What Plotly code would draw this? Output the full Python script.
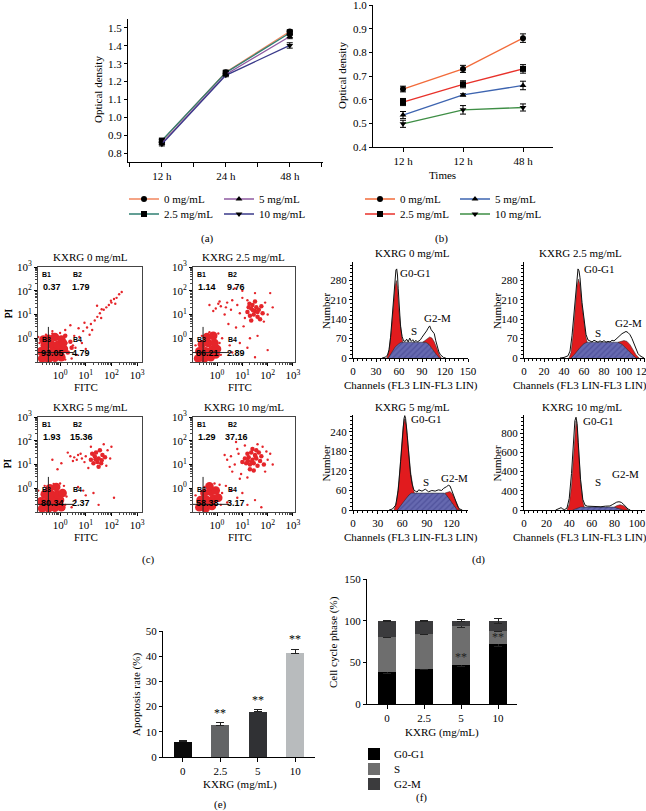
import plotly.graph_objects as go

W, H = 646, 811
SERIF = "Liberation Serif, Times New Roman, serif"
SANS = "Liberation Sans, Arial, sans-serif"

# ---------------- data ----------------
doses = ["0 mg/mL", "2.5 mg/mL", "5 mg/mL", "10 mg/mL"]
symbols = ["circle", "square", "triangle-up", "triangle-down"]

# (a)
a_times = ["12 h", "24 h", "48 h"]
a_od = [[0.868, 1.252, 1.480], [0.870, 1.250, 1.472], [0.855, 1.240, 1.452], [0.850, 1.235, 1.402]]
a_err = [[0.008, 0.008, 0.010], [0.008, 0.008, 0.010], [0.008, 0.008, 0.012], [0.010, 0.008, 0.015]]
a_colors = ["#f2865e", "#2f7f72", "#8e5aa0", "#3a3a8a"]

# (b)
b_times = ["12 h", "12 h", "48 h"]
b_od = [[0.645, 0.730, 0.860], [0.590, 0.665, 0.730], [0.535, 0.620, 0.660], [0.498, 0.557, 0.567]]
b_err = [[0.012, 0.015, 0.018], [0.015, 0.015, 0.018], [0.015, 0.005, 0.018], [0.015, 0.018, 0.015]]
b_colors = ["#f26b3a", "#e8312a", "#3d64b0", "#3e8e45"]

# (c) flow cytometry dot plots (log10 FITC, log10 PI)
c_titles = ["KXRG 0 mg/mL", "KXRG 2.5 mg/mL", "KXRG 5 mg/mL", "KXRG 10 mg/mL"]
c_pct = [[0.37, 1.79, 93.05, 4.79], [1.14, 9.76, 86.21, 2.89],
         [1.93, 15.36, 80.34, 2.37], [1.29, 37.16, 58.38, 3.17]]
c_quads = ["B1", "B2", "B3", "B4"]
c_gate_x = [0.35, 0.28, 0.35, 0.28]
c_gate_y = [0.25, 0.25, 0.21, 0.21]

c1_dense_x = [-0.70, -0.45, -0.20, 0.05, -0.75, -0.50, -0.25, 0.00, 0.15, -0.60, -0.35, -0.10, -0.45, -0.20, 0.05, -0.65,
              -0.32, -0.58, -0.08, 0.12]
c1_dense_y = [-0.85, -0.88, -0.82, -0.80, -0.55, -0.60, -0.50, -0.55, -0.45, -0.30, -0.25, -0.28, -0.02, 0.05, -0.05, -0.05,
              -0.70, -0.42, -0.65, -0.20]
c1_clu_x = [0.30, 0.45, 0.40, 0.20]
c1_clu_y = [-0.60, -0.40, -0.15, 0.10]
c1_sp_x = [0.45, 0.60, 0.55, 0.75, 0.90, 1.05, 1.20, 1.35, 1.45, 1.55, 1.70, 1.80, 1.90, 2.00, 2.10, 2.20, 2.30, 2.40,
           1.60, 1.25, 0.85, 0.40, 1.44, 0.20, -0.30, 0.65, 1.00, 0.50, 1.15, 0.95, 2.15,
           -0.80, -0.85, 0.20, 0.25, -0.55, 0.00, -0.30, 0.15, 1.62, 1.98, 0.72]
c1_sp_y = [-0.85, -0.40, 0.10, 0.05, 0.30, 0.45, 0.60, 0.75, 0.90, 1.05, 1.20, 1.30, 1.40, 1.50, 1.65, 1.70, 1.85, 1.95,
           0.85, 0.35, -0.20, 0.55, 1.37, 0.35, 0.30, -0.70, -0.45, -0.30, 0.15, 0.65, 1.45,
           -0.20, 0.05, -0.90, -0.20, 0.15, 0.22, 0.20, 0.05, 1.22, 1.58, 0.42]

c2_dense_x = [-0.75, -0.50, -0.25, -0.70, -0.45, -0.20, 0.00, -0.60, -0.35, -0.10, -0.40, -0.15, -0.62, -0.30, -0.05]
c2_dense_y = [-0.85, -0.85, -0.80, -0.55, -0.55, -0.50, -0.45, -0.25, -0.20, -0.20, 0.05, 0.10, -0.72, -0.65, -0.68]
c2_clu_x = [1.20, 1.35, 1.50, 1.65, 1.80, 1.30, 1.45, 1.60, 1.75, 1.40, 1.55, 1.25, 1.70, 1.50, 1.35, 1.60, 1.42, 1.28]
c2_clu_y = [1.10, 1.25, 1.15, 1.20, 1.05, 0.95, 1.00, 0.90, 1.35, 1.40, 1.30, 1.30, 0.80, 1.55, 0.75, 1.10, 1.18, 1.45]
c2_sp_x = [0.40, 0.55, 0.35, 0.60, 0.80, 1.00, 1.10, 1.20, 1.90, 2.00, 1.85, 2.10, 1.00, 0.70, 1.50, 2.20, 0.90, 0.30,
           0.05, 0.15, 0.10, -0.05, -0.30, -0.15, 0.60, 1.20, 1.50, 0.90, 1.30, 0.50, 2.00, 1.60, 0.45, 0.75, 1.05,
           -0.85, 0.15, 0.10, 0.05, -0.30, 0.20, -0.60]
c2_sp_y = [1.50, 1.20, 1.30, 1.60, 1.40, 1.70, 0.85, 1.60, 1.50, 1.00, 0.70, 1.90, 2.00, 2.10, 1.90, 1.30, 1.05, 1.00,
           1.45, 1.35, 1.55, 1.25, 1.40, 1.15, -0.60, -0.40, -0.80, -0.20, 0.00, -0.30, -0.50, 0.10, 0.60, 0.45, 0.50,
           -0.30, -0.70, -0.20, 0.20, 0.25, 0.00, 0.10]

c3_dense_x = [-0.70, -0.45, -0.20, 0.05, -0.75, -0.50, -0.25, 0.00, -0.60, -0.35, -0.10, 0.10, -0.40, -0.15, -0.58, -0.32, -0.08]
c3_dense_y = [-0.85, -0.85, -0.82, -0.80, -0.55, -0.55, -0.50, -0.50, -0.25, -0.25, -0.25, -0.20, 0.00, 0.05, -0.70, -0.68, -0.66]
c3_clu_x = [1.20, 1.35, 1.50, 1.65, 1.30, 1.45, 1.60, 1.75, 1.40, 1.55, 1.25, 1.50, 1.38, 1.62]
c3_clu_y = [1.20, 1.35, 1.25, 1.40, 1.05, 1.10, 1.05, 1.30, 1.50, 1.60, 1.45, 0.90, 1.22, 1.18]
c3_sp_x = [0.40, 0.55, 0.70, 0.85, 1.00, 0.50, 0.65, 0.80, 0.95, 1.85, 1.95, 2.00, 1.10, 1.80, 0.30, -0.30, -0.10, 0.05,
           1.70, 1.20, 0.60, 1.00, 1.50, 2.10, 0.90, 0.45, 0.70, 1.30,
           -0.85, 0.20, 0.25, 0.15, -0.60, -0.25, 0.00]
c3_sp_y = [1.35, 1.30, 1.40, 1.25, 1.35, 1.15, 1.20, 1.45, 1.10, 1.60, 1.25, 1.75, 0.85, 0.95, 1.50, 1.20, 0.80, 1.05,
           1.85, 1.75, -0.50, -0.30, -0.70, -0.40, -0.10, -0.80, 0.05, -0.20,
           -0.10, -0.70, -0.35, 0.10, 0.10, 0.18, 0.20]

c4_dense_x = [-0.70, -0.45, -0.20, -0.65, -0.40, -0.15, 0.05, -0.50, -0.25, -0.05, -0.30, -0.55, -0.30]
c4_dense_y = [-0.80, -0.85, -0.75, -0.50, -0.50, -0.45, -0.40, -0.20, -0.15, -0.10, 0.08, -0.68, -0.62]
c4_clu_x = [1.10, 1.25, 1.40, 1.55, 1.70, 1.15, 1.30, 1.45, 1.60, 1.75, 1.20, 1.35, 1.50, 1.65, 1.30, 1.45, 1.00, 1.85,
            1.40, 1.55, 1.38, 1.22, 1.52]
c4_clu_y = [1.25, 1.30, 1.20, 1.25, 1.15, 1.05, 1.00, 1.05, 0.95, 1.35, 1.45, 1.50, 1.40, 1.50, 0.80, 0.75, 1.10, 1.00,
            1.65, 1.60, 1.12, 1.15, 1.33]
c4_sp_x = [0.40, 0.55, 0.70, 0.85, 0.60, 0.80, 0.95, 2.00, 2.10, 1.90, 2.20, 1.10, 1.60, 0.50, 0.30, 0.75, 1.80, 1.20, 0.90,
           1.95, -0.20, 0.10, 0.40, 0.80, 1.20, 1.50, 0.55, 1.75, 0.35, 1.00,
           -0.85, 0.15, 0.20, -0.10, -0.50, 0.10]
c4_sp_y = [1.20, 1.35, 1.00, 1.45, 0.70, 1.65, 0.60, 1.20, 1.45, 0.70, 1.00, 1.80, 1.85, 0.90, 1.40, 1.95, 1.75, 0.45, 0.40,
           1.55, 0.10, -0.30, -0.60, -0.40, -0.70, -0.50, -0.10, -0.80, 0.10, -0.20,
           -0.30, -0.70, -0.20, 0.20, 0.05, 0.15]

# (d) DNA histograms (channel, number)
d_titles = ["KXRG 0 mg/mL", "KXRG 2.5 mg/mL", "KXRG 5 mg/mL", "KXRG 10 mg/mL"]
d1_g1_x = [44, 47, 50, 53, 55, 56.5, 58, 60, 62, 64, 66, 69, 72]
d1_g1_y = [0, 25, 100, 200, 260, 280, 255, 170, 110, 70, 45, 20, 0]
d1_s_x = [46, 50, 55, 60, 63, 95, 99, 104, 109, 113]
d1_s_y = [0, 18, 40, 52, 57, 57, 50, 30, 12, 0]
d1_g2_x = [91, 94, 97, 100, 103, 106, 109, 112, 115, 113, 109, 104, 99, 95, 91]
d1_g2_y = [57, 64, 72, 76, 72, 58, 38, 15, 0, 0, 12, 30, 50, 57, 57]
d1_raw_x = [38, 42, 45, 47, 49, 51, 53, 55, 56, 57, 58, 59, 60, 62, 64, 66, 68, 70, 72, 74, 76, 78, 80, 82, 84, 86, 88,
            90, 92, 94, 96, 98, 100, 102, 104, 106, 108, 110, 112, 114, 116, 118, 121]
d1_raw_y = [0, 3, 10, 30, 75, 150, 240, 300, 318, 322, 300, 250, 190, 115, 78, 62, 60, 68, 58, 72, 60, 66, 57, 64, 58, 62,
            66, 75, 82, 90, 98, 108, 116, 102, 95, 88, 62, 40, 22, 12, 6, 2, 0]

d2_g1_x = [45, 47, 49, 51, 53, 54.5, 56, 58, 60, 62, 64, 67, 70]
d2_g1_y = [0, 20, 80, 180, 260, 285, 265, 190, 120, 75, 45, 18, 0]
d2_s_x = [47, 51, 56, 60, 63, 94, 98, 103, 108, 112]
d2_s_y = [0, 15, 38, 52, 57, 57, 50, 32, 14, 0]
d2_g2_x = [94, 97, 100, 103, 106, 109, 112, 115, 112, 108, 103, 98, 94]
d2_g2_y = [57, 60, 63, 60, 48, 30, 12, 0, 0, 14, 32, 50, 57]
d2_raw_x = [36, 40, 44, 46, 48, 50, 52, 53, 54, 55, 56, 58, 60, 62, 64, 66, 68, 70, 72, 74, 76, 78, 80, 82, 84, 86, 88,
            90, 92, 94, 96, 98, 100, 102, 104, 106, 108, 110, 112, 114, 116, 118, 120]
d2_raw_y = [0, 2, 8, 25, 80, 170, 260, 300, 322, 315, 290, 200, 130, 85, 65, 62, 58, 64, 60, 57, 62, 58, 63, 57, 60, 58,
            64, 62, 68, 75, 82, 88, 92, 96, 92, 84, 70, 50, 30, 16, 8, 3, 0]

d3_g1_x = [50, 53, 56, 59, 61, 63, 65, 67, 70, 73, 76, 80]
d3_g1_y = [0, 25, 90, 190, 255, 281, 260, 200, 120, 70, 40, 0]
d3_s_x = [54, 58, 63, 68, 71, 111, 115, 119, 123, 127]
d3_s_y = [0, 12, 30, 46, 52, 52, 45, 30, 14, 0]
d3_g2_x = [112, 115, 118, 121, 124, 127, 130, 127, 123, 119, 115, 112]
d3_g2_y = [52, 55, 57, 50, 34, 16, 0, 0, 14, 30, 45, 52]
d3_raw_x = [44, 48, 52, 55, 58, 60, 62, 63, 64, 66, 68, 70, 72, 74, 76, 78, 80, 84, 88, 92, 96, 100, 104, 108, 110, 112,
            114, 116, 118, 120, 122, 124, 126, 128, 130, 133]
d3_raw_y = [0, 3, 15, 60, 150, 230, 280, 290, 282, 230, 160, 110, 80, 62, 58, 55, 62, 58, 64, 56, 60, 58, 62, 60, 66,
            68, 72, 76, 74, 62, 48, 32, 18, 8, 3, 0]

d4_g1_x = [38, 40, 42, 44, 45, 46, 47, 48, 50, 52, 54]
d4_g1_y = [0, 60, 250, 600, 820, 930, 860, 650, 300, 90, 0]
d4_s_x = [43, 47, 50, 80, 84, 88]
d4_s_y = [0, 20, 30, 30, 18, 0]
d4_g2_x = [80, 82, 85, 88, 90, 92, 88, 84, 80]
d4_g2_y = [30, 45, 55, 45, 25, 0, 0, 18, 30]
d4_raw_x = [28, 30, 32, 33, 34, 36, 38, 40, 42, 44, 45, 46, 47, 48, 50, 52, 54, 56, 60, 64, 68, 72, 76, 78, 80, 82, 84,
            86, 88, 90, 92, 94]
d4_raw_y = [0, 8, 15, 25, 10, 5, 20, 120, 380, 760, 930, 967, 900, 700, 320, 110, 50, 40, 36, 38, 34, 40, 42, 55, 70, 82,
            86, 80, 60, 30, 10, 0]

d_phase_labels = ["G0-G1", "S", "G2-M"]

# (e)
conc = ["0", "2.5", "5", "10"]
e_rate = [6.0, 12.7, 18.0, 41.1]
e_err = [0.7, 0.8, 0.8, 1.6]
e_sig = ["", "**", "**", "**"]
e_colors = ["#0a0a0a", "#636466", "#303134", "#b8bbbd"]

# (f)
phases = ["G0-G1", "S", "G2-M"]
f_vals = [[38, 42, 47, 72], [43, 42.5, 46.5, 16], [19, 15.5, 6.5, 12]]
f_err = [[1.5, 1.0, 2.5, 3.0], [1.0, 0.5, 2.0, 1.5], [0.5, 0.5, 1.5, 3.0]]
f_colors = ["#000000", "#6e6e6e", "#3b3b3d"]
f_sig_y = [None, None, 56, 81]

# ---------------- helpers ----------------
def fx(p):
    return p / W


def fy(p):
    return 1 - p / H


def dx(a, b):
    return [fx(a), fx(b)]


def dy(top, bottom):
    return [fy(bottom), fy(top)]


def axis(domain, anchor, **kw):
    base = dict(domain=domain, anchor=anchor, showgrid=False, zeroline=False, showline=True,
                linecolor="black", linewidth=1, ticks="outside", ticklen=3, tickwidth=1,
                tickcolor="black", tickfont=dict(family=SERIF, size=11, color="black"),
                ticklabeloverflow="allow")
    base.update(kw)
    return base


fig = go.Figure()
annotations = []
shapes = []


def ann(text, x, y, size=11, family=SERIF, angle=0, **kw):
    d = dict(text=text, x=fx(x), y=fy(y), xref="paper", yref="paper", showarrow=False,
             font=dict(family=family, size=size, color="black"), textangle=angle,
             xanchor="center", yanchor="middle")
    d.update(kw)
    annotations.append(d)


layout = {}

# ---------------- (a) ----------------
a_leg = ["legend", "legend2", "legend", "legend2"]
for i, dose in enumerate(doses):
    fig.add_trace(go.Scatter(
        x=list(range(len(a_times))), y=a_od[i], name=dose, mode="lines+markers",
        line=dict(color=a_colors[i], width=1.3),
        marker=dict(symbol=symbols[i], color="black", size=6),
        error_y=dict(type="data", array=a_err[i], color="black", thickness=1, width=3),
        xaxis="x", yaxis="y", legend=a_leg[i]))
layout["xaxis"] = axis(dx(128, 323), "y", range=[-0.53, 2.52], tickvals=list(range(3)), ticktext=a_times,
                       ticklen=4, minor=dict(ticks="outside", ticklen=4, dtick=0.5, tick0=0, tickcolor="black"))
layout["yaxis"] = axis(dy(19, 162), "x", range=[0.75, 1.55], tickvals=[0.8, 0.9, 1.0, 1.1, 1.2, 1.3, 1.4, 1.5],
                       ticktext=["0.8", "0.9", "1.0", "1.1", "1.2", "1.3", "1.4", "1.5"])
ann("Optical density", 98, 90, angle=-90)

# ---------------- (b) ----------------
b_leg = ["legend3", "legend4", "legend3", "legend4"]
for i, dose in enumerate(doses):
    fig.add_trace(go.Scatter(
        x=list(range(len(b_times))), y=b_od[i], name=dose, mode="lines+markers",
        line=dict(color=b_colors[i], width=1.3),
        marker=dict(symbol=symbols[i], color="black", size=6),
        error_y=dict(type="data", array=b_err[i], color="black", thickness=1, width=3),
        xaxis="x2", yaxis="y2", legend=b_leg[i]))
layout["xaxis2"] = axis(dx(373, 553), "y2", range=[-0.5, 2.5], tickvals=list(range(3)), ticktext=b_times, ticklen=4)
layout["yaxis2"] = axis(dy(5, 147), "x2", range=[0.4, 1.0], tickvals=[0.4, 0.5, 0.6, 0.7, 0.8, 0.9, 1.0],
                        ticktext=["0.4", "0.5", "0.6", "0.7", "0.8", "0.9", "1.0"])
ann("Optical density", 342, 76, angle=-90)
ann("Times", 442, 175)

leg_common = dict(orientation="h", xanchor="left", yanchor="middle", entrywidth=50, entrywidthmode="pixels",
                  font=dict(family=SERIF, size=11, color="black"), bgcolor="rgba(0,0,0,0)", itemwidth=30,
                  traceorder="normal")
layout["legend"] = dict(leg_common, x=fx(124), y=fy(199))
layout["legend2"] = dict(leg_common, x=fx(124), y=fy(214))
layout["legend3"] = dict(leg_common, x=fx(360), y=fy(199))
layout["legend4"] = dict(leg_common, x=fx(360), y=fy(214))

ann("(a)", 207, 238)
ann("(b)", 441, 238)

# ---------------- (c) ----------------
c_boxes = [(38, 142, 267, 362), (193, 295, 267, 362), (38, 142, 417, 512), (193, 295, 417, 512)]
c_xr = [[-0.86, 3.19], [-0.95, 3.08], [-0.86, 3.19], [-0.95, 3.08]]
c_dense = [(c1_dense_x, c1_dense_y), (c2_dense_x, c2_dense_y), (c3_dense_x, c3_dense_y), (c4_dense_x, c4_dense_y)]
c_clu = [(c1_clu_x, c1_clu_y), (c2_clu_x, c2_clu_y), (c3_clu_x, c3_clu_y), (c4_clu_x, c4_clu_y)]
c_sp = [(c1_sp_x, c1_sp_y), (c2_sp_x, c2_sp_y), (c3_sp_x, c3_sp_y), (c4_sp_x, c4_sp_y)]
DOT = "#e5252a"
pow_text = ["10<sup>0</sup>", "10<sup>1</sup>", "10<sup>2</sup>", "10<sup>3</sup>"]
for k in range(4):
    n = 3 + k
    xa, ya = "x%d" % n, "y%d" % n
    for (xs, ys), sz in ((c_sp[k], 2.4), (c_clu[k], 4.5), (c_dense[k], 8.5)):
        fig.add_trace(go.Scatter(x=[10 ** v for v in xs], y=[10 ** v for v in ys], mode="markers",
                                 marker=dict(color=DOT, size=sz, line=dict(width=0)),
                                 xaxis=xa, yaxis=ya, showlegend=False, hoverinfo="skip"))
    L, R, T, B = c_boxes[k]
    layout["xaxis%d" % n] = axis(dx(L, R), ya, type="log", range=c_xr[k], tickvals=[1, 10, 100, 1000],
                                 ticktext=pow_text, mirror=True, linecolor="#444",
                                 minor=dict(ticks="outside", ticklen=2, dtick="D1", tickcolor="#444"))
    layout["yaxis%d" % n] = axis(dy(T, B), xa, type="log", range=[-1, 3], tickvals=[1, 10, 100, 1000],
                                 ticktext=pow_text, mirror=True, linecolor="#444",
                                 minor=dict(ticks="outside", ticklen=2, dtick="D1", tickcolor="#444"))
    # quadrant gates
    shapes.append(dict(type="line", xref=xa, yref=ya, x0=c_gate_x[k], x1=c_gate_x[k], y0=-1, y1=3,
                       line=dict(color="#222", width=1)))
    shapes.append(dict(type="line", xref=xa, yref=ya, x0=c_xr[k][0], x1=c_xr[k][1], y0=c_gate_y[k], y1=c_gate_y[k],
                       line=dict(color="#222", width=1)))
    gx = L + (c_gate_x[k] - c_xr[k][0]) / (c_xr[k][1] - c_xr[k][0]) * (R - L)
    gy = T + 66
    for q in range(4):
        lx = (L + 2) if q in (0, 2) else (gx + 2)
        ly = (T + 7) if q < 2 else (gy + 6)
        ann("<b>%s</b>" % c_quads[q], lx, ly, xanchor="left", font=dict(family=SANS, size=7, color="black"))
        nx = (L + 14) if q in (0, 2) else (gx + 12)
        ny = (T + 20) if q < 2 else (gy + 20)
        ann("<b>%.2f</b>" % c_pct[k][q], nx, ny, size=9, family=SANS)
    ann(c_titles[k], (L + R) / 2, T - 10, size=11)
    ann("FITC", (L + R) / 2 - 4, B + 25)
    ann("PI", 7, (T + B) / 2 - 1, angle=-90)

ann("(c)", 148, 559)

# ---------------- (d) ----------------
d_boxes = [(353, 468, 262, 358), (524, 645, 262, 358), (353, 468, 415, 510), (524, 645, 415, 510)]
d_xr = [[0, 150], [0, 121], [0, 140], [0, 107]]
d_yr = [[0, 347], [0, 347], [0, 292], [0, 990]]
d_xt = [[0, 30, 60, 90, 120, 150], [0, 20, 40, 60, 80, 100, 120], [0, 30, 60, 90, 120], [0, 20, 40, 60, 80, 100]]
d_yt = [[0, 70, 140, 210, 280], [0, 70, 140, 210, 280], [0, 60, 120, 180, 240], [0, 200, 400, 600, 800]]
d_ytt = [["0", "70", "140", "210", "280"], ["0", "70", "140", "210", "280"], ["0", "60", "120", "180", "240"],
         ["0", "400", "400", "600", "800"]]
d_xminor = [6, 4, 6, 4]
d_yminor = [14, 14, 12, 40]
d_g1 = [(d1_g1_x, d1_g1_y), (d2_g1_x, d2_g1_y), (d3_g1_x, d3_g1_y), (d4_g1_x, d4_g1_y)]
d_s = [(d1_s_x, d1_s_y), (d2_s_x, d2_s_y), (d3_s_x, d3_s_y), (d4_s_x, d4_s_y)]
d_g2 = [(d1_g2_x, d1_g2_y), (d2_g2_x, d2_g2_y), (d3_g2_x, d3_g2_y), (d4_g2_x, d4_g2_y)]
d_raw = [(d1_raw_x, d1_raw_y), (d2_raw_x, d2_raw_y), (d3_raw_x, d3_raw_y), (d4_raw_x, d4_raw_y)]
# label anchor points (channel, number) for G0-G1, S, G2-M
d_lab = [[(81, 309), (79, 99), (110, 143)], [(75, 320), (74, 92), (104, 125)],
         [(90, 280), (89, 87), (123, 97)], [(66, 925), (65, 293), (90, 380)]]
d_title_x = [412, 580, 412, 582]
d_xlab_x = [411, 580, 411, 580]
RED = "#e11b1e"
for k in range(4):
    n = 7 + k
    xa, ya = "x%d" % n, "y%d" % n
    fig.add_trace(go.Scatter(x=d_g1[k][0], y=d_g1[k][1], mode="lines", fill="toself", fillcolor=RED,
                             line=dict(width=0.5, color="#222"), xaxis=xa, yaxis=ya, showlegend=False, hoverinfo="skip"))
    fig.add_trace(go.Scatter(x=d_s[k][0], y=d_s[k][1], mode="lines", fill="toself", fillcolor="#6669b0",
                             fillpattern=dict(shape="/", fgcolor="#383a85", bgcolor="#6669b0", size=4, solidity=0.3),
                             line=dict(width=0.5, color="#222"), xaxis=xa, yaxis=ya, showlegend=False, hoverinfo="skip"))
    fig.add_trace(go.Scatter(x=d_g2[k][0], y=d_g2[k][1], mode="lines", fill="toself", fillcolor=RED,
                             line=dict(width=0.5, color="#222"), xaxis=xa, yaxis=ya, showlegend=False, hoverinfo="skip"))
    fig.add_trace(go.Scatter(x=d_raw[k][0], y=d_raw[k][1], mode="lines", line=dict(width=1, color="#111"),
                             xaxis=xa, yaxis=ya, showlegend=False, hoverinfo="skip"))
    L, R, T, B = d_boxes[k]
    layout["xaxis%d" % n] = axis(dx(L, R), ya, range=d_xr[k], tickvals=d_xt[k],
                                 minor=dict(ticks="outside", ticklen=2, dtick=d_xminor[k], tickcolor="black"))
    layout["yaxis%d" % n] = axis(dy(T, B), xa, range=d_yr[k], tickvals=d_yt[k], ticktext=d_ytt[k],
                                 minor=dict(ticks="outside", ticklen=2, dtick=d_yminor[k], tickcolor="black"))
    for j, lab in enumerate(d_phase_labels):
        cx, cy = d_lab[k][j]
        annotations.append(dict(text=lab, x=cx, y=cy, xref=xa, yref=ya, showarrow=False,
                                font=dict(family=SERIF, size=11, color="black")))
    ann(d_titles[k], d_title_x[k], T - 9 if k < 2 else T - 8, size=11)
    ann("Channels (FL3 LIN-FL3 LIN)", d_xlab_x[k], B + 27)
    ann("Number", L - 27, (T + B) / 2 + 1, angle=-90)

ann("(d)", 478, 559)

# ---------------- (e) ----------------
fig.add_trace(go.Bar(x=list(range(len(conc))), y=e_rate, width=0.49, marker=dict(color=e_colors, line=dict(width=0)),
                     error_y=dict(type="data", array=e_err, arrayminus=[0] * len(e_err), symmetric=False,
                                  color="#222", thickness=1, width=4),
                     xaxis="x11", yaxis="y11", showlegend=False, hoverinfo="skip"))
for i, s in enumerate(e_sig):
    if s:
        annotations.append(dict(text=s, x=i, y=e_rate[i] + e_err[i], xref="x11", yref="y11", showarrow=False,
                                yanchor="bottom", yshift=1, font=dict(family=SERIF, size=12, color="black")))
layout["xaxis11"] = axis(dx(163, 315), "y11", range=[-0.53, 3.53], tickvals=list(range(len(conc))), ticktext=conc,
                         ticklen=4)
layout["yaxis11"] = axis(dy(631, 757), "x11", range=[0, 50], tickvals=[0, 10, 20, 30, 40, 50])
ann("Apoptosis rate (%)", 136, 695, angle=-90)
ann("KXRG (mg/mL)", 240, 784)
ann("(e)", 220, 804)

# ---------------- (f) ----------------
f_leg = ["legend5", "legend6", "legend7"]
for j, ph in enumerate(phases):
    fig.add_trace(go.Bar(x=list(range(len(conc))), y=f_vals[j], width=0.49, name=ph,
                         marker=dict(color=f_colors[j], line=dict(width=0)),
                         error_y=dict(type="data", array=f_err[j], color="#222", thickness=1, width=4),
                         xaxis="x12", yaxis="y12", legend=f_leg[j], hoverinfo="skip"))
for i, yv in enumerate(f_sig_y):
    if yv is not None:
        annotations.append(dict(text="**", x=i, y=yv, xref="x12", yref="y12", showarrow=False,
                                font=dict(family=SERIF, size=12, color="#222")))
layout["xaxis12"] = axis(dx(367, 517), "y12", range=[-0.54, 3.51], tickvals=list(range(len(conc))), ticktext=conc,
                         ticklen=4)
layout["yaxis12"] = axis(dy(579, 704), "x12", range=[0, 150], tickvals=[0, 50, 100, 150])
ann("Cell cycle phase (%)", 333, 642, angle=-90)
ann("KXRG (mg/mL)", 442, 732)
ann("(f)", 421, 797)
fleg = dict(orientation="v", xanchor="left", yanchor="middle", font=dict(family=SERIF, size=11, color="black"),
            bgcolor="rgba(0,0,0,0)", itemwidth=30, traceorder="normal")
layout["legend5"] = dict(fleg, x=fx(354), y=fy(754))
layout["legend6"] = dict(fleg, x=fx(354), y=fy(769))
layout["legend7"] = dict(fleg, x=fx(354), y=fy(784))

fig.update_layout(**layout)
fig.update_layout(width=W, height=H, margin=dict(l=0, r=0, t=0, b=0, autoexpand=False), paper_bgcolor="white",
                  plot_bgcolor="white", barmode="stack", showlegend=True,
                  annotations=annotations, shapes=shapes,
                  font=dict(family=SERIF, size=11, color="black"))
fig.write_html("out.html", config={"displayModeBar": False},
               post_script="document.body.style.margin='0px';")
